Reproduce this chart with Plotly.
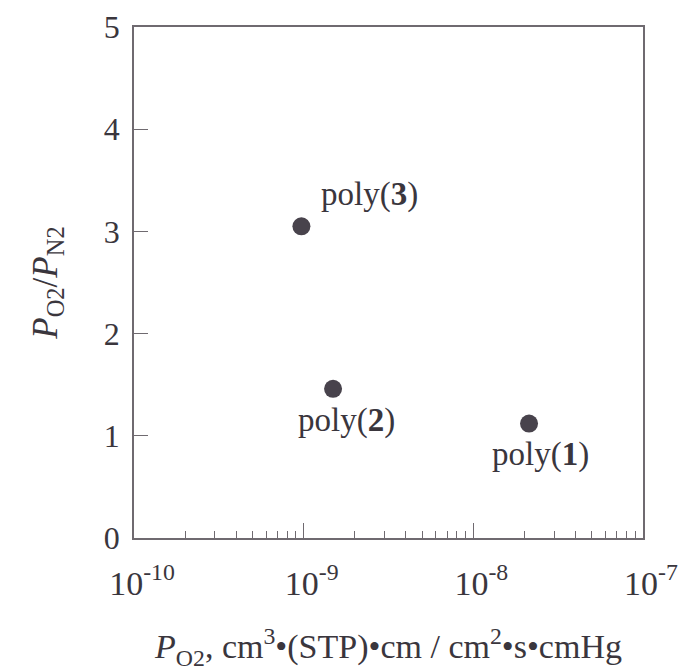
import math
import plotly.graph_objects as go

# O2 permeability vs O2/N2 selectivity for the three polymers
polymers = ["poly(<b>1</b>)", "poly(<b>2</b>)", "poly(<b>3</b>)"]
p_o2 = [2.13e-8, 1.49e-9, 9.7e-10]
selectivity = [1.12, 1.46, 3.05]

# label offsets (px) relative to each marker
label_dx = [11, 13, 68]
label_dy = [-31, -32, 32]

x_major = [1e-10, 1e-9, 1e-8, 1e-7]
x_major_text = ["10<sup>-10</sup>", "10<sup>-9</sup>", "10<sup>-8</sup>", "10<sup>-7</sup>"]
x_minor = [m * d for d in (1e-10, 1e-9, 1e-8) for m in range(2, 10)]
y_ticks = [0, 1, 2, 3, 4, 5]

INK = "#3a363d"
LINE = "#6f6a70"
FONT = "Liberation Serif"

fig = go.Figure()
fig.add_trace(go.Scatter(
    x=p_o2, y=selectivity, mode="markers",
    marker=dict(size=18, color="#48434c", line=dict(width=0)),
    showlegend=False, hoverinfo="skip",
))

for name, xv, yv, dx, dy in zip(polymers, p_o2, selectivity, label_dx, label_dy):
    fig.add_annotation(
        x=math.log10(xv), y=yv, text=name, showarrow=False,
        xshift=dx, yshift=dy, font=dict(family=FONT, size=33, color=INK),
    )

fig.update_xaxes(
    type="log", range=[-10, -7], automargin=False,
    tickvals=x_major, ticktext=x_major_text,
    ticks="inside", ticklen=15, tickwidth=1.2, tickcolor=LINE,
    minor=dict(tickvals=x_minor, ticks="inside", ticklen=7, tickwidth=1.2, tickcolor=LINE),
    showline=True, mirror=True, linecolor=LINE, linewidth=1.6,
    showgrid=False, zeroline=False,
    tickfont=dict(family=FONT, size=34, color=INK),
    ticklabelstandoff=14, ticklabelshift=8, ticklabeloverflow="allow",
    title=dict(
        text="<i>P</i><sub>O2</sub>, cm<sup>3</sup>•(STP)•cm / cm<sup>2</sup>•s•cmHg",
        font=dict(family=FONT, size=34, color=INK), standoff=34,
    ),
)
fig.update_yaxes(
    range=[0, 5], automargin=False, tickvals=y_ticks,
    ticks="inside", ticklen=14, tickwidth=1.2, tickcolor=LINE,
    showline=True, mirror=True, linecolor=LINE, linewidth=1.6,
    showgrid=False, zeroline=False,
    tickfont=dict(family=FONT, size=32, color=INK),
    ticklabelstandoff=6,
    title=dict(
        text="<i>P</i><sub>O2</sub>/<i>P</i><sub>N2</sub>",
        font=dict(family=FONT, size=35, color=INK), standoff=36,
    ),
)
fig.update_layout(
    width=681, height=671,
    margin=dict(l=134, r=38, t=27, b=133),
    paper_bgcolor="white", plot_bgcolor="white",
)
fig.write_html("out.html")
